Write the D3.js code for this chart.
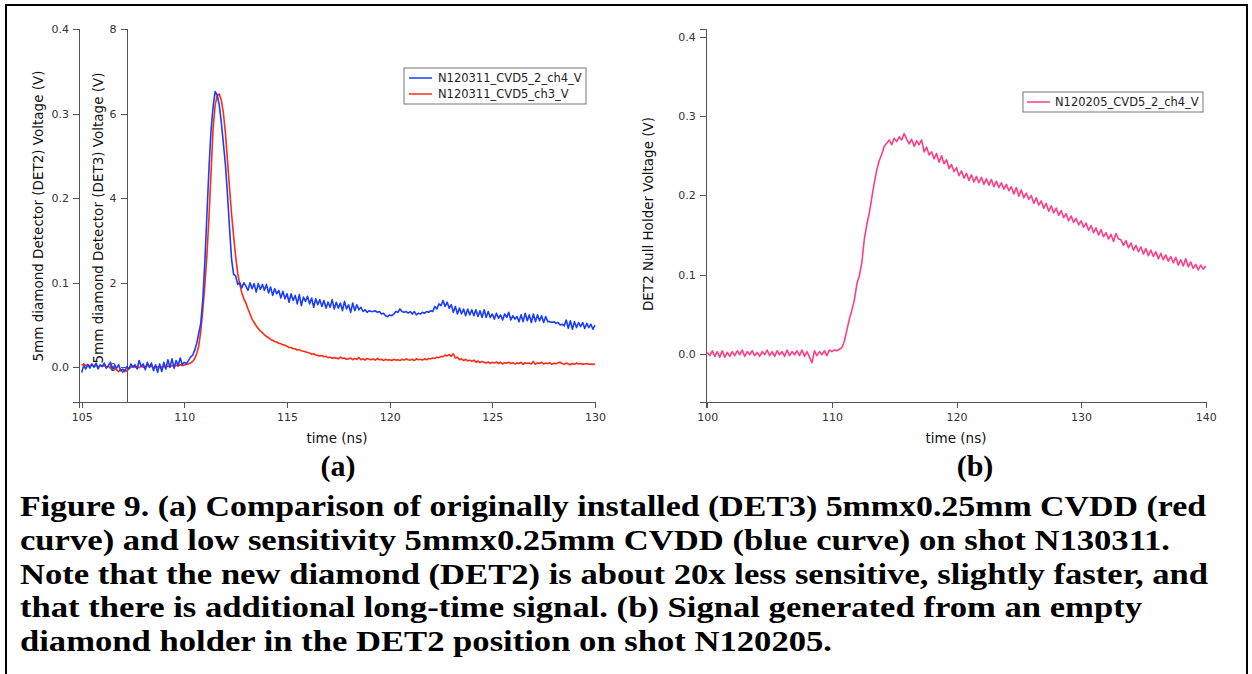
<!DOCTYPE html>
<html lang="en">
<head>
  <meta charset="UTF-8">
  <title>Figure 9 - DET2 / DET3 diamond detector signals</title>
  <script src="https://d3js.org/d3.v7.min.js"></script>
  <style>
    body { margin: 0; background: #fff; }
    .axis path, .axis line { stroke: #555; stroke-width: 1px; shape-rendering: crispEdges; }
    .axis text { font-family: "DejaVu Sans", sans-serif; font-size: 11px; fill: #333; }
    .lbl { font-family: "DejaVu Sans", sans-serif; font-size: 13.5px; fill: #111; }
    .leg { font-family: "DejaVu Sans", sans-serif; font-size: 11.5px; fill: #222; }
    .cap { font-family: "Liberation Serif", serif; font-weight: bold; font-size: 30px; fill: #000; }
    .trace { fill: none; stroke-width: 1.6px; stroke-linejoin: round; }
  </style>
</head>
<body>
<svg width="1252" height="674"></svg>
<script>
// ---- panel (a): shot N120311, sampled every 0.1 ns from 105 ns ----
const tStartA = 105, dtA = 0.1;
// DET2 (blue, left axis, V)
const det2 = [
  -0.006, 0.002, -0.002, 0.003, -0.001, 0.004, 0.000, 0.005, -0.002, 0.003,
  0.001, 0.005, -0.001, 0.002, 0.006, -0.003, 0.002, -0.001, 0.003, -0.004,
  -0.002, -0.005, 0.001, -0.002, 0.004, 0.000, 0.003, -0.002, 0.008, 0.001,
  0.004, -0.003, 0.006, 0.000, 0.005, -0.004, 0.003, -0.006, 0.004, -0.005,
  0.006, -0.002, 0.009, 0.000, 0.010, -0.001, 0.008, 0.002, 0.011, 0.003,
  0.006, 0.004, 0.008, 0.012, 0.014, 0.020, 0.028, 0.040, 0.052, 0.080,
  0.125, 0.180, 0.235, 0.280, 0.308, 0.326, 0.322, 0.310, 0.290, 0.265,
  0.240, 0.205, 0.165, 0.128, 0.110, 0.108, 0.098, 0.100, 0.094, 0.100,
  0.096, 0.091, 0.100, 0.093, 0.099, 0.089, 0.099, 0.092, 0.098, 0.091,
  0.098, 0.088, 0.095, 0.085, 0.093, 0.087, 0.091, 0.082, 0.090, 0.081,
  0.087, 0.077, 0.087, 0.079, 0.085, 0.075, 0.086, 0.073, 0.083, 0.078,
  0.084, 0.075, 0.082, 0.071, 0.081, 0.074, 0.080, 0.072, 0.079, 0.070,
  0.077, 0.071, 0.080, 0.069, 0.077, 0.070, 0.076, 0.067, 0.078, 0.069,
  0.074, 0.065, 0.076, 0.067, 0.074, 0.068, 0.071, 0.066, 0.068, 0.065,
  0.067, 0.066, 0.066, 0.067, 0.065, 0.066, 0.063, 0.064, 0.061, 0.060,
  0.062, 0.061, 0.063, 0.066, 0.065, 0.069, 0.066, 0.065, 0.066, 0.064,
  0.066, 0.063, 0.066, 0.062, 0.064, 0.063, 0.065, 0.064, 0.066, 0.065,
  0.067, 0.066, 0.072, 0.069, 0.075, 0.073, 0.079, 0.072, 0.077, 0.070,
  0.074, 0.065, 0.072, 0.063, 0.070, 0.063, 0.069, 0.061, 0.069, 0.062,
  0.068, 0.061, 0.068, 0.060, 0.067, 0.059, 0.068, 0.059, 0.066, 0.059,
  0.063, 0.057, 0.064, 0.058, 0.062, 0.056, 0.063, 0.059, 0.065, 0.056,
  0.061, 0.057, 0.060, 0.054, 0.062, 0.054, 0.064, 0.055, 0.062, 0.053,
  0.063, 0.054, 0.062, 0.055, 0.061, 0.053, 0.060, 0.054, 0.054, 0.053,
  0.054, 0.052, 0.053, 0.050, 0.051, 0.049, 0.056, 0.046, 0.055, 0.045,
  0.054, 0.047, 0.053, 0.048, 0.053, 0.046, 0.052, 0.047, 0.051, 0.045,
  0.050
];
// DET3 (red, inner axis, V)
const det3 = [
  0.05, 0.08, 0.04, 0.07, 0.03, 0.06, 0.02, 0.05, 0.01, 0.04,
  0.02, 0.05, 0.00, 0.03, -0.02, 0.02, -0.04, -0.06, -0.10, -0.05,
  -0.12, -0.06, -0.09, -0.03, 0.00, 0.03, 0.00, 0.02, -0.01, 0.03,
  0.00, 0.02, 0.04, 0.01, 0.03, -0.01, 0.02, 0.00, 0.03, 0.01,
  0.02, 0.00, 0.03, 0.01, 0.04, 0.02, 0.05, 0.03, 0.06, 0.04,
  0.05, 0.07, 0.08, 0.10, 0.14, 0.20, 0.32, 0.50, 0.85, 1.35,
  1.95, 2.65, 3.55, 4.60, 5.65, 6.20, 6.42, 6.46, 6.32, 6.02,
  5.55, 4.90, 4.25, 3.62, 3.10, 2.62, 2.22, 1.96, 1.76, 1.62,
  1.52, 1.38, 1.26, 1.14, 1.06, 0.98, 0.92, 0.86, 0.82, 0.77,
  0.73, 0.70, 0.66, 0.64, 0.61, 0.60, 0.57, 0.56, 0.53, 0.52,
  0.50, 0.47, 0.47, 0.44, 0.44, 0.41, 0.42, 0.39, 0.38, 0.37,
  0.35, 0.34, 0.31, 0.32, 0.29, 0.28, 0.27, 0.28, 0.25, 0.26,
  0.23, 0.24, 0.21, 0.23, 0.22, 0.20, 0.24, 0.21, 0.22, 0.19,
  0.20, 0.22, 0.18, 0.21, 0.19, 0.23, 0.18, 0.20, 0.17, 0.21,
  0.19, 0.18, 0.20, 0.17, 0.21, 0.18, 0.19, 0.16, 0.19, 0.17,
  0.18, 0.16, 0.19, 0.17, 0.18, 0.16, 0.19, 0.17, 0.20, 0.18,
  0.17, 0.19, 0.16, 0.20, 0.18, 0.19, 0.17, 0.20, 0.18, 0.21,
  0.20, 0.22, 0.21, 0.24, 0.23, 0.26, 0.25, 0.29, 0.27, 0.30,
  0.26, 0.32, 0.22, 0.24, 0.18, 0.20, 0.16, 0.19, 0.15, 0.17,
  0.14, 0.17, 0.12, 0.15, 0.11, 0.14, 0.12, 0.10, 0.13, 0.09,
  0.12, 0.10, 0.13, 0.09, 0.12, 0.08, 0.11, 0.10, 0.12, 0.09,
  0.11, 0.08, 0.10, 0.09, 0.12, 0.07, 0.11, 0.09, 0.10, 0.08,
  0.14, 0.07, 0.11, 0.09, 0.12, 0.08, 0.10, 0.09, 0.11, 0.07,
  0.10, 0.08, 0.11, 0.12, 0.09, 0.07, 0.10, 0.08, 0.06, 0.09,
  0.07, 0.10, 0.08, 0.09, 0.07, 0.08, 0.09, 0.07, 0.08, 0.07,
  0.08
];
const xTicksA = [105, 110, 115, 120, 125, 130];
const yTicksDet2 = [0.0, 0.1, 0.2, 0.3, 0.4];
const yTicksDet3 = [0, 2, 4, 6, 8];

// ---- panel (b): shot N120205, sampled every 0.2 ns from 100 ns ----
const tStartB = 100, dtB = 0.2;
const nullHolder = [
  0.002, -0.002, 0.004, -0.003, 0.003, -0.004, 0.004, -0.004, 0.002, -0.003,
  0.003, -0.002, 0.004, -0.001, 0.005, -0.003, 0.003, -0.001, 0.004, -0.002,
  0.002, -0.003, 0.003, -0.001, 0.005, -0.002, 0.003, -0.003, 0.004, -0.001,
  0.003, -0.003, 0.005, -0.002, 0.003, -0.001, 0.004, -0.002, 0.005, -0.003,
  0.003, -0.004, -0.011, 0.004, -0.002, 0.003, -0.001, 0.004, -0.002, 0.005,
  0.003, 0.005, 0.004, 0.006, 0.008, 0.016, 0.030, 0.044, 0.055, 0.068,
  0.088, 0.099, 0.115, 0.145, 0.163, 0.178, 0.197, 0.216, 0.232, 0.244,
  0.252, 0.262, 0.266, 0.270, 0.264, 0.272, 0.268, 0.274, 0.270, 0.278,
  0.271, 0.265, 0.271, 0.262, 0.269, 0.264, 0.270, 0.255, 0.261, 0.251,
  0.255, 0.246, 0.253, 0.242, 0.250, 0.240, 0.245, 0.234, 0.239, 0.230,
  0.235, 0.225, 0.231, 0.222, 0.228, 0.219, 0.226, 0.217, 0.224, 0.216,
  0.223, 0.214, 0.221, 0.213, 0.220, 0.211, 0.218, 0.210, 0.216, 0.208,
  0.214, 0.206, 0.211, 0.202, 0.210, 0.199, 0.207, 0.197, 0.203, 0.195,
  0.200, 0.190, 0.197, 0.188, 0.193, 0.184, 0.190, 0.180, 0.187, 0.178,
  0.184, 0.175, 0.181, 0.172, 0.177, 0.168, 0.174, 0.166, 0.171, 0.163,
  0.168, 0.160, 0.165, 0.156, 0.162, 0.153, 0.159, 0.150, 0.157, 0.148,
  0.153, 0.145, 0.151, 0.142, 0.152, 0.145, 0.144, 0.137, 0.143, 0.134,
  0.140, 0.131, 0.137, 0.129, 0.135, 0.126, 0.133, 0.124, 0.131, 0.123,
  0.129, 0.120, 0.127, 0.119, 0.125, 0.117, 0.123, 0.115, 0.122, 0.112,
  0.119, 0.111, 0.120, 0.110, 0.116, 0.108, 0.113, 0.106, 0.112, 0.107,
  0.111
];
const xTicksB = [100, 110, 120, 130, 140];
const yTicksB = [0.0, 0.1, 0.2, 0.3, 0.4];

const legendA = ["N120311_CVD5_2_ch4_V", "N120311_CVD5_ch3_V"];
const legendB = ["N120205_CVD5_2_ch4_V"];
const colors = { det2: "#1a3cff", det3: "#ff2b14", nullH: "#ff3d88" };

const captionLines = [
  "Figure 9. (a) Comparison of originally installed (DET3) 5mmx0.25mm CVDD (red",
  "curve) and low sensitivity 5mmx0.25mm CVDD (blue curve) on shot N130311.",
  "Note that the new diamond (DET2) is about 20x less sensitive, slightly faster, and",
  "that there is additional long-time signal. (b) Signal generated from an empty",
  "diamond holder in the DET2 position on shot N120205."
];
const captionWidths = [1186, 1150, 1188, 1122, 812];

const svg = d3.select("svg");

// outer frame
svg.append("rect")
  .attr("x", 6).attr("y", 5).attr("width", 1241).attr("height", 680)
  .attr("fill", "none").attr("stroke", "#000").attr("stroke-width", 2);

// ---------- panel (a) ----------
const xA = d3.scaleLinear().domain([104.87, 130]).range([79, 595]);
const yDet2 = d3.scaleLinear().domain([-0.041, 0.4]).range([402, 29]);
const yDet3 = d3.scaleLinear().domain([-0.82, 8]).range([402, 29]);

const gA = svg.append("g");
gA.append("g").attr("class", "axis").attr("transform", "translate(0,402)")
  .call(d3.axisBottom(xA).tickValues(xTicksA).tickSizeOuter(0).tickSize(6).tickPadding(5));
gA.append("g").attr("class", "axis").attr("transform", "translate(79,0)")
  .call(d3.axisLeft(yDet2).tickValues(yTicksDet2).tickFormat(d3.format(".1f")).tickSizeOuter(0).tickSize(6).tickPadding(4));
gA.append("g").attr("class", "axis").attr("transform", "translate(126.5,0)")
  .call(d3.axisLeft(yDet3).tickValues(yTicksDet3).tickFormat(d3.format("d")).tickSizeOuter(0).tickSize(6).tickPadding(4));

gA.append("text").attr("class", "lbl")
  .attr("transform", "translate(43,216) rotate(-90)").attr("text-anchor", "middle")
  .text("5mm diamond Detector (DET2) Voltage (V)");
gA.append("text").attr("class", "lbl")
  .attr("transform", "translate(103,218) rotate(-90)").attr("text-anchor", "middle")
  .text("5mm diamond Detector (DET3) Voltage (V)");
gA.append("text").attr("class", "lbl")
  .attr("x", 337).attr("y", 443).attr("text-anchor", "middle").text("time (ns)");

const lineDet2 = d3.line().x((d, i) => xA(tStartA + i * dtA)).y(d => yDet2(d));
const lineDet3 = d3.line().x((d, i) => xA(tStartA + i * dtA)).y(d => yDet3(d));
gA.append("path").datum(det3).attr("class", "trace").attr("stroke", colors.det3).attr("d", lineDet3);
gA.append("path").datum(det2).attr("class", "trace").attr("stroke", colors.det2).attr("d", lineDet2);

// legend (a)
const legA = gA.append("g").attr("transform", "translate(404,68)");
legA.append("rect").attr("width", 182).attr("height", 36)
  .attr("fill", "#fff").attr("stroke", "#777").attr("stroke-width", 1);
[colors.det2, colors.det3].forEach((c, i) => {
  legA.append("line").attr("x1", 5).attr("x2", 28).attr("y1", 10 + i * 16).attr("y2", 10 + i * 16)
    .attr("stroke", c).attr("stroke-width", 1.5);
  legA.append("text").attr("class", "leg").attr("x", 34).attr("y", 14 + i * 16).text(legendA[i]);
});

// ---------- panel (b) ----------
const xB = d3.scaleLinear().domain([99.87, 140]).range([705.7, 1205.7]);
const yB = d3.scaleLinear().domain([-0.0606, 0.41]).range([402, 29]);

const gB = svg.append("g");
gB.append("g").attr("class", "axis").attr("transform", "translate(0,402)")
  .call(d3.axisBottom(xB).tickValues(xTicksB).tickSizeOuter(0).tickSize(6).tickPadding(5));
gB.append("g").attr("class", "axis").attr("transform", "translate(705.7,0)")
  .call(d3.axisLeft(yB).tickValues(yTicksB).tickFormat(d3.format(".1f")).tickSizeOuter(0).tickSize(6).tickPadding(4));

gB.append("text").attr("class", "lbl")
  .attr("transform", "translate(653,214) rotate(-90)").attr("text-anchor", "middle")
  .text("DET2 Null Holder Voltage (V)");
gB.append("text").attr("class", "lbl")
  .attr("x", 956).attr("y", 443).attr("text-anchor", "middle").text("time (ns)");

const lineB = d3.line().x((d, i) => xB(tStartB + i * dtB)).y(d => yB(d));
gB.append("path").datum(nullHolder).attr("class", "trace").attr("stroke", colors.nullH).attr("d", lineB);

const legB = gB.append("g").attr("transform", "translate(1023,92)");
legB.append("rect").attr("width", 180).attr("height", 20)
  .attr("fill", "#fff").attr("stroke", "#777").attr("stroke-width", 1);
legB.append("line").attr("x1", 4).attr("x2", 27).attr("y1", 10).attr("y2", 10)
  .attr("stroke", colors.nullH).attr("stroke-width", 1.5);
legB.append("text").attr("class", "leg").attr("x", 32).attr("y", 14).text(legendB[0]);

// ---------- panel tags and caption ----------
svg.append("text").attr("class", "cap").attr("x", 338).attr("y", 476)
  .attr("text-anchor", "middle").text("(a)");
svg.append("text").attr("class", "cap").attr("x", 975).attr("y", 476)
  .attr("text-anchor", "middle").text("(b)");

captionLines.forEach((s, i) => {
  svg.append("text").attr("class", "cap")
    .attr("x", 20).attr("y", 516 + i * 33.8)
    .attr("textLength", captionWidths[i]).attr("lengthAdjust", "spacingAndGlyphs")
    .text(s);
});
</script>
</body>
</html>
